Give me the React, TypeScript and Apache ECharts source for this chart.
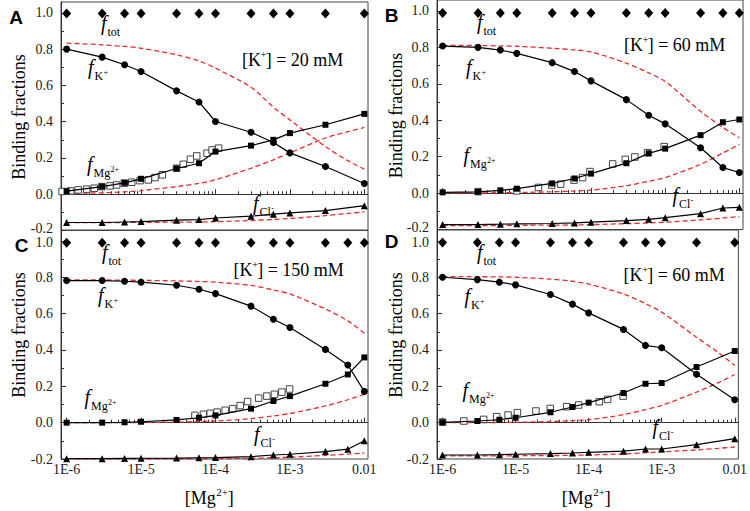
import React, { useEffect, useRef } from 'react';
import * as echarts from 'echarts';

// ---------- data ----------
const X12 = [1e-6, 3e-6, 6e-6, 1e-5, 3e-5, 6e-5, 1e-4, 3e-4, 6e-4, 1e-3, 3e-3, 1e-2];
const X13 = [1e-6, 3e-6, 6e-6, 1e-5, 3e-5, 6e-5, 1e-4, 3e-4, 6e-4, 1e-3, 3e-3, 6e-3, 1e-2];
const X_TH = [1e-6, 3e-6, 6e-6, 1e-5, 3e-5, 6e-5, 1e-4, 3e-4, 6e-4, 1e-3, 3e-3, 6e-3, 1e-2];

const MAJOR_X = [1e-6, 1e-5, 1e-4, 1e-3, 1e-2];
const MINOR_X = [
  2e-6, 3e-6, 4e-6, 5e-6, 6e-6, 7e-6, 8e-6, 9e-6,
  2e-5, 3e-5, 4e-5, 5e-5, 6e-5, 7e-5, 8e-5, 9e-5,
  2e-4, 3e-4, 4e-4, 5e-4, 6e-4, 7e-4, 8e-4, 9e-4,
  2e-3, 3e-3, 4e-3, 5e-3, 6e-3, 7e-3, 8e-3, 9e-3,
];
const MAJOR_Y = [-0.2, 0, 0.2, 0.4, 0.6, 0.8, 1.0];
const MINOR_Y = [-0.1, 0.1, 0.3, 0.5, 0.7, 0.9];

// Panel A ([K+] = 20 mM)
const TOT_A = [0.997, 0.997, 0.997, 0.997, 0.997, 0.997, 0.997, 0.997, 0.997, 0.997, 0.997, 0.997];
const K_A = [0.8, 0.756, 0.714, 0.677, 0.57, 0.509, 0.401, 0.342, 0.285, 0.228, 0.153, 0.059];
const MG_A = [0.017, 0.042, 0.063, 0.085, 0.142, 0.171, 0.235, 0.268, 0.3, 0.337, 0.383, 0.443];
const CL_A = [-0.156, -0.156, -0.153, -0.151, -0.143, -0.14, -0.131, -0.121, -0.11, -0.103, -0.09, -0.063];
const MGOPEN_XA = [8.7e-7, 1.13e-6, 1.43e-6, 1.86e-6, 2.35e-6, 2.96e-6, 3.83e-6, 4.7e-6, 5.96e-6, 7.5e-6, 9.7e-6, 1.25e-5, 1.54e-5, 1.93e-5, 3.0e-5, 3.7e-5, 4.6e-5, 5.6e-5, 7.7e-5, 9.0e-5, 1.1e-4];
const MGOPEN_YA = [0.015, 0.018, 0.024, 0.028, 0.033, 0.042, 0.046, 0.051, 0.061, 0.066, 0.075, 0.079, 0.092, 0.107, 0.143, 0.165, 0.193, 0.211, 0.226, 0.244, 0.254];
const K_TH_A = [0.833, 0.824, 0.815, 0.805, 0.769, 0.735, 0.695, 0.59, 0.48, 0.41, 0.263, 0.185, 0.138];
const MG_TH_A = [0.005, 0.008, 0.013, 0.02, 0.042, 0.06, 0.08, 0.143, 0.19, 0.228, 0.31, 0.345, 0.368];
const CL_TH_A = [-0.157, -0.157, -0.156, -0.155, -0.154, -0.153, -0.151, -0.145, -0.139, -0.134, -0.118, -0.106, -0.097];

// Panel B ([K+] = 60 mM)
const TOT_B = [0.988, 0.988, 0.988, 0.988, 0.988, 0.988, 0.988, 0.988, 0.988, 0.988, 0.988, 0.988, 0.988];
const K_B = [0.807, 0.8, 0.785, 0.767, 0.716, 0.667, 0.616, 0.513, 0.427, 0.38, 0.249, 0.14, 0.113];
const MG_B = [0.004, 0.007, 0.015, 0.024, 0.053, 0.08, 0.107, 0.164, 0.218, 0.244, 0.318, 0.389, 0.404];
const CL_B = [-0.173, -0.173, -0.171, -0.169, -0.167, -0.164, -0.16, -0.151, -0.144, -0.135, -0.113, -0.082, -0.078];
const MGOPEN_XB = [3.0e-6, 1.0e-5, 1.96e-5, 2.95e-5, 3.9e-5, 5.9e-5, 7.7e-5, 9.7e-5, 1.96e-4, 2.9e-4, 3.9e-4, 5.8e-4, 9.7e-4];
const MGOPEN_YB = [0.008, 0.012, 0.031, 0.044, 0.049, 0.071, 0.085, 0.118, 0.16, 0.185, 0.198, 0.222, 0.255];
const K_TH_B = [0.811, 0.81, 0.808, 0.806, 0.795, 0.786, 0.775, 0.713, 0.66, 0.613, 0.449, 0.36, 0.304];
const MG_TH_B = [0.0, 0.001, 0.002, 0.003, 0.007, 0.011, 0.016, 0.04, 0.065, 0.085, 0.158, 0.22, 0.267];
const CL_TH_B = [-0.178, -0.178, -0.178, -0.177, -0.176, -0.175, -0.173, -0.168, -0.164, -0.16, -0.147, -0.137, -0.129];

// Panel C ([K+] = 150 mM)
const TOT_C = [0.99, 0.99, 0.99, 0.99, 0.99, 0.99, 0.99, 0.99, 0.99, 0.99, 0.99, 0.99, 0.99];
const K_C = [0.782, 0.782, 0.778, 0.773, 0.756, 0.734, 0.71, 0.641, 0.569, 0.524, 0.403, 0.317, 0.172];
const MG_C = [0.0, 0.0, 0.002, 0.005, 0.015, 0.027, 0.04, 0.077, 0.119, 0.146, 0.214, 0.265, 0.359];
const CL_C = [-0.198, -0.198, -0.197, -0.196, -0.195, -0.193, -0.192, -0.187, -0.178, -0.174, -0.159, -0.146, -0.1];
const MGOPEN_XC = [5.3e-5, 6.9e-5, 8.5e-5, 1.05e-4, 1.35e-4, 1.7e-4, 2.15e-4, 2.7e-4, 3.8e-4, 4.9e-4, 6.2e-4, 7.8e-4, 9.9e-4];
const MGOPEN_YC = [0.04, 0.046, 0.051, 0.058, 0.068, 0.077, 0.094, 0.116, 0.135, 0.146, 0.156, 0.168, 0.185];
const K_TH_C = [0.785, 0.785, 0.784, 0.783, 0.78, 0.777, 0.773, 0.755, 0.73, 0.708, 0.626, 0.56, 0.492];
const MG_TH_C = [0.0, 0.0, 0.0, 0.001, 0.003, 0.006, 0.009, 0.022, 0.037, 0.05, 0.092, 0.126, 0.156];
const CL_TH_C = [-0.2, -0.2, -0.2, -0.2, -0.199, -0.199, -0.198, -0.196, -0.193, -0.19, -0.18, -0.173, -0.167];

// Panel D ([K+] = 60 mM)
const TOT_D = [0.991, 0.991, 0.991, 0.991, 0.991, 0.991, 0.991, 0.991, 0.991, 0.991, 0.991, 0.991];
const K_D = [0.8, 0.787, 0.773, 0.758, 0.705, 0.652, 0.604, 0.513, 0.425, 0.412, 0.266, 0.126];
const MG_D = [0.002, 0.009, 0.016, 0.027, 0.057, 0.086, 0.11, 0.163, 0.214, 0.218, 0.306, 0.394];
const CL_D = [-0.178, -0.178, -0.176, -0.174, -0.17, -0.167, -0.163, -0.157, -0.145, -0.145, -0.121, -0.088];
const MGOPEN_XD = [1e-6, 1.96e-6, 3.65e-6, 5.5e-6, 7.9e-6, 1.06e-5, 1.9e-5, 2.98e-5, 5e-5, 7.3e-5, 1.4e-4, 1.82e-4, 2.96e-4];
const MGOPEN_YD = [0.003, 0.009, 0.018, 0.033, 0.042, 0.055, 0.064, 0.078, 0.088, 0.097, 0.115, 0.128, 0.146];
const K_TH_D = [0.804, 0.803, 0.802, 0.8, 0.79, 0.778, 0.763, 0.708, 0.655, 0.608, 0.47, 0.385, 0.315];
const MG_TH_D = [0.0, 0.0, 0.001, 0.002, 0.006, 0.011, 0.016, 0.044, 0.072, 0.095, 0.168, 0.22, 0.265];
const CL_TH_D = [-0.183, -0.183, -0.183, -0.182, -0.181, -0.18, -0.178, -0.172, -0.166, -0.161, -0.15, -0.141, -0.134];

// ---------- layout ----------
const SERIF = 'Liberation Serif';
const XMIN = 8.4e-7;
const XMAX = 1.12e-2;
const YMIN = -0.2;
const YMAX = 1.06;
const RED = '#ea2a2a';

type Panel = {
  letter: string;
  letterPos: [number, number];
  grid: { left: number; top: number; width: number; height: number };
  bottom: boolean;
  x: number[];
  tot: number[];
  k: number[];
  mg: number[];
  cl: number[];
  openX: number[];
  openY: number[];
  kTh: number[];
  mgTh: number[];
  clTh: number[];
  conc: string;
  concPos: [number, number];
  fPos: { tot: [number, number]; k: [number, number]; mg: [number, number]; cl: [number, number] };
  yTitle: [number, number];
  xTitle?: [number, number];
};

const PANELS: Panel[] = [
  {
    letter: 'A', letterPos: [16, 17], grid: { left: 61, top: 2, width: 307, height: 228.5 }, bottom: false,
    x: X12, tot: TOT_A, k: K_A, mg: MG_A, cl: CL_A, openX: MGOPEN_XA, openY: MGOPEN_YA,
    kTh: K_TH_A, mgTh: MG_TH_A, clTh: CL_TH_A,
    conc: '20 mM', concPos: [242, 66.5],
    fPos: { tot: [100, 16], k: [87, 60], mg: [86, 157], cl: [252, 196] },
    yTitle: [18.5, 117],
  },
  {
    letter: 'B', letterPos: [391.5, 15], grid: { left: 437, top: 0, width: 306, height: 229.5 }, bottom: false,
    x: X13, tot: TOT_B, k: K_B, mg: MG_B, cl: CL_B, openX: MGOPEN_XB, openY: MGOPEN_YB,
    kTh: K_TH_B, mgTh: MG_TH_B, clTh: CL_TH_B,
    conc: '60 mM', concPos: [624, 51.5],
    fPos: { tot: [476, 15], k: [465, 60], mg: [462.5, 148], cl: [671.5, 188] },
    yTitle: [395.5, 115.5],
  },
  {
    letter: 'C', letterPos: [21.5, 245], grid: { left: 61, top: 230, width: 307, height: 229 }, bottom: true,
    x: X13, tot: TOT_C, k: K_C, mg: MG_C, cl: CL_C, openX: MGOPEN_XC, openY: MGOPEN_YC,
    kTh: K_TH_C, mgTh: MG_TH_C, clTh: CL_TH_C,
    conc: '150 mM', concPos: [233.5, 276],
    fPos: { tot: [101, 245], k: [97, 288], mg: [83.5, 390], cl: [253, 426.5] },
    yTitle: [18.5, 335], xTitle: [209, 504],
  },
  {
    letter: 'D', letterPos: [391.5, 241.5], grid: { left: 437, top: 230, width: 306, height: 229 }, bottom: true,
    x: X12, tot: TOT_D, k: K_D, mg: MG_D, cl: CL_D, openX: MGOPEN_XD, openY: MGOPEN_YD,
    kTh: K_TH_D, mgTh: MG_TH_D, clTh: CL_TH_D,
    conc: '60 mM', concPos: [623.5, 281.5],
    fPos: { tot: [476, 245], k: [463.5, 289], mg: [461.5, 382.5], cl: [651.5, 420] },
    yTitle: [395.5, 335], xTitle: [586, 504],
  },
];

// ---------- helpers ----------
let measureCtx: CanvasRenderingContext2D | null = null;
function measure(text: string, size: number, italic = false): number {
  if (!measureCtx) {
    const c = document.createElement('canvas');
    measureCtx = c.getContext('2d');
  }
  if (!measureCtx) return text.length * size * 0.5;
  measureCtx.font = `${italic ? 'italic ' : ''}${size}px "${SERIF}"`;
  return measureCtx.measureText(text).width;
}

function styleOf(text: string, size: number, italic = false, align = 'left') {
  return {
    text,
    fontFamily: SERIF,
    fontSize: size,
    fontStyle: italic ? 'italic' : 'normal',
    fill: '#000',
    align,
    verticalAlign: 'middle',
  };
}

// text placed by baseline: central line is ~0.34 em above baseline
function txt(text: string, x: number, baseline: number, size: number, italic = false) {
  return { type: 'text', x, y: baseline - 0.34 * size, silent: true, z: 100, style: styleOf(text, size, italic) };
}

function fLabel(pos: [number, number], sub: string, sup?: string) {
  const [x, T] = pos;
  const B = T + 14;
  const subB = T + 20.5;
  const els: any[] = [txt('f', x + 1, B, 20, true), txt(sub, x + 7.5, subB, 12)];
  if (sup) {
    const w = measure(sub, 12);
    els.push({ type: 'text', x: x + 7.5 + w + 0.3, y: subB - 8, silent: true, z: 100, style: styleOf(sup, 8) });
  }
  return els;
}

function concLabel(pos: [number, number], conc: string) {
  const [x, B] = pos;
  const w1 = measure('[K', 18);
  const wp = measure('+', 11);
  return [
    txt('[K', x, B, 18),
    { type: 'text', x: x + w1 - 0.5, y: B - 12.5, silent: true, z: 100, style: styleOf('+', 11) },
    txt(`] = ${conc}`, x + w1 + wp * 0.75, B, 18),
  ];
}

function mgTitle(pos: [number, number]) {
  const [cx, B] = pos;
  const w1 = measure('[Mg', 18);
  const w2 = measure('2+', 11);
  const w3 = measure(']', 18);
  const x = cx - (w1 + w2 + w3) / 2;
  return [
    txt('[Mg', x, B, 18),
    { type: 'text', x: x + w1 + 0.5, y: B - 12.5, silent: true, z: 100, style: styleOf('2+', 11) },
    txt(']', x + w1 + w2 + 0.5, B, 18),
  ];
}

function pairs(xs: number[], ys: number[]) {
  return xs.map((x, i) => [x, ys[i]]);
}

function xLabelFmt(v: number) {
  const l = Math.log10(v);
  const e = Math.round(l);
  if (Math.abs(l - e) > 1e-6) return '';
  if (e === -2) return '0.01';
  return `1E${e}`;
}

// top panels: lift the -0.2 label a bit; bottom panels: drop the 1.0 label a bit
function makeYFmt(bottom: boolean) {
  return (v: number) => {
    if (Math.abs(v * 5 - Math.round(v * 5)) > 1e-6) return '';
    const s = (Math.abs(v) < 1e-9 ? 0 : v).toFixed(1);
    if (!bottom && v < -0.19) return `{lo|${s}}`;
    if (bottom && v > 0.99) return `{hi|${s}}`;
    return s;
  };
}

function buildOption() {
  const grid: any[] = [];
  const xAxis: any[] = [];
  const yAxis: any[] = [];
  const series: any[] = [];
  const graphic: any[] = [];
  const axisColor = '#333';

  PANELS.forEach((p, i) => {
    grid.push({
      left: p.grid.left, top: p.grid.top, width: p.grid.width, height: p.grid.height,
      show: true, borderColor: '#444', borderWidth: 1, backgroundColor: 'transparent',
    });
    xAxis.push({
      gridIndex: i, type: 'log', logBase: 10, min: XMIN, max: XMAX, position: 'bottom',
      axisLine: { show: true, lineStyle: { color: axisColor, width: 1 } },
      axisTick: { show: true, inside: true, length: 5, customValues: MAJOR_X, lineStyle: { color: axisColor } },
      axisLabel: {
        show: p.bottom, customValues: MAJOR_X, formatter: xLabelFmt, fontFamily: SERIF, fontSize: 14,
        color: '#222', margin: 3, hideOverlap: false,
      },
      splitLine: { show: false },
    });
    xAxis.push({
      gridIndex: i, type: 'log', logBase: 10, min: XMIN, max: XMAX, position: 'bottom',
      axisLine: { show: false },
      axisTick: { show: true, inside: true, length: 3, customValues: MINOR_X, lineStyle: { color: axisColor } },
      axisLabel: { show: false },
      splitLine: { show: false },
    });
    yAxis.push({
      gridIndex: i, type: 'value', min: YMIN, max: YMAX, interval: 0.2, position: 'left',
      axisLine: { show: true, lineStyle: { color: axisColor, width: 1 } },
      axisTick: { show: true, inside: true, length: 5, customValues: MAJOR_Y, lineStyle: { color: axisColor } },
      axisLabel: {
        customValues: MAJOR_Y, formatter: makeYFmt(p.bottom), fontFamily: SERIF, fontSize: 14, color: '#222',
        margin: 8,
        rich: {
          lo: { fontFamily: SERIF, fontSize: 14, color: '#222', padding: [0, 0, 5, 0] },
          hi: { fontFamily: SERIF, fontSize: 14, color: '#222', padding: [4, 0, 0, 0] },
        },
      },
      splitLine: { show: false },
    });
    yAxis.push({
      gridIndex: i, type: 'value', min: YMIN, max: YMAX, interval: 0.2, position: 'left',
      axisLine: { show: false },
      axisTick: { show: true, inside: true, length: 3, customValues: MINOR_Y, lineStyle: { color: axisColor } },
      axisLabel: { show: false },
      splitLine: { show: false },
    });

    const xi = i * 2;
    const yi = i * 2;
    const redLine = (data: number[][], name: string) => ({
      name, type: 'line', xAxisIndex: xi, yAxisIndex: yi, data, smooth: 0.3,
      showSymbol: false, symbol: 'none', z: 2, silent: true,
      lineStyle: { color: RED, width: 1.3, type: [5, 3] },
    });
    series.push(redLine(pairs(X_TH, p.kTh), `${p.letter} K+ theory`));
    series.push(redLine(pairs(X_TH, p.mgTh), `${p.letter} Mg2+ theory`));
    series.push(redLine(pairs(X_TH, p.clTh), `${p.letter} Cl- theory`));
    series.push({
      name: `${p.letter} Mg2+ open`, type: 'scatter', xAxisIndex: xi, yAxisIndex: yi,
      data: pairs(p.openX, p.openY), symbol: 'rect', symbolSize: 6.5, z: 3, silent: true,
      itemStyle: { color: '#fff', borderColor: '#444', borderWidth: 1, opacity: 1 },
    });
    const blackLine = (data: number[][], symbol: string, size: number, name: string) => ({
      name, type: 'line', xAxisIndex: xi, yAxisIndex: yi, data, symbol, symbolSize: size,
      showSymbol: true, z: 4, silent: true,
      lineStyle: { color: '#000', width: 1.2 },
      itemStyle: { color: '#000', borderWidth: 0, opacity: 1 },
    });
    series.push(blackLine(pairs(p.x, p.k), 'circle', 7, `${p.letter} K+`));
    series.push(blackLine(pairs(p.x, p.mg), 'rect', 6, `${p.letter} Mg2+`));
    series.push(blackLine(pairs(p.x, p.cl), 'triangle', 7, `${p.letter} Cl-`));
    series.push({
      name: `${p.letter} tot`, type: 'scatter', xAxisIndex: xi, yAxisIndex: yi,
      data: pairs(p.x, p.tot), symbol: 'diamond', symbolSize: [9, 10], z: 5, silent: true,
      itemStyle: { color: '#000', opacity: 1 },
    });

    graphic.push({
      type: 'text', x: p.letterPos[0], y: p.letterPos[1], silent: true, z: 100,
      style: {
        text: p.letter, fontFamily: 'Liberation Sans', fontWeight: 'bold', fontSize: 19, fill: '#000',
        align: 'center', verticalAlign: 'middle',
      },
    });
    graphic.push(...fLabel(p.fPos.tot, 'tot'));
    graphic.push(...fLabel(p.fPos.k, 'K', '+'));
    graphic.push(...fLabel(p.fPos.mg, 'Mg', '2+'));
    graphic.push(...fLabel(p.fPos.cl, 'Cl', '-'));
    graphic.push(...concLabel(p.concPos, p.conc));
    graphic.push({
      type: 'text', x: p.yTitle[0], y: p.yTitle[1], rotation: Math.PI / 2, silent: true, z: 100,
      style: styleOf('Binding fractions', 18, false, 'center'),
    });
    if (p.xTitle) graphic.push(...mgTitle(p.xTitle));
  });

  return {
    animation: false,
    backgroundColor: '#fff',
    grid,
    xAxis,
    yAxis,
    series,
    graphic: { elements: graphic },
  };
}

export default function App() {
  const ref = useRef<HTMLDivElement>(null);
  useEffect(() => {
    if (!ref.current) return;
    const chart = echarts.init(ref.current, undefined, { renderer: 'svg' });
    chart.setOption(buildOption() as any);
    return () => chart.dispose();
  }, []);
  return (
    <div
      ref={ref}
      style={{ position: 'absolute', left: 0, top: 0, width: 750, height: 511, background: '#fff' }}
    />
  );
}
